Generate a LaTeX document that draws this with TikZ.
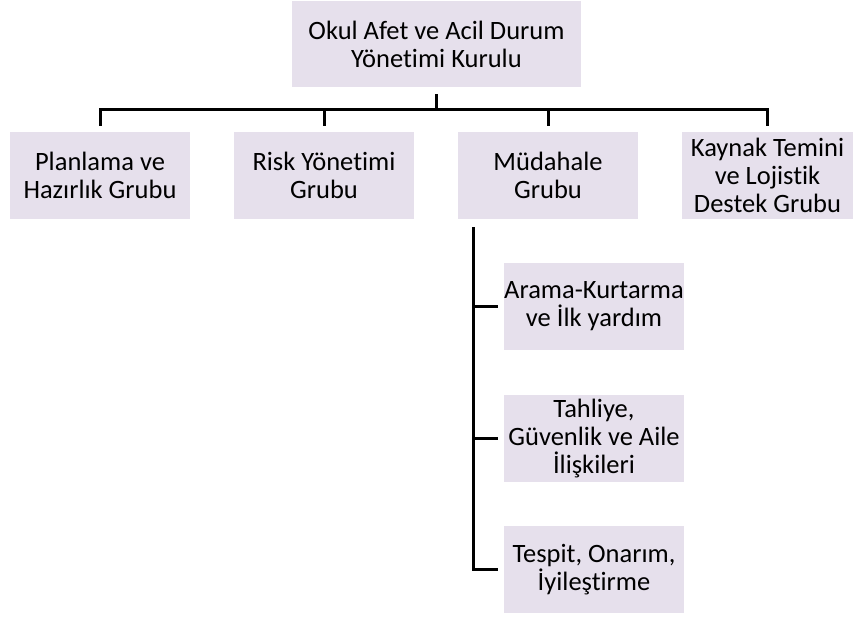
\documentclass[tikz,border=0pt]{standalone}
\usepackage{fontspec}
\setmainfont[Ligatures={NoCommon}]{Carlito}
\definecolor{boxfill}{HTML}{E6E0EC}
\begin{document}
\begin{tikzpicture}[x=1pt,y=-1pt,
  box/.style={fill=boxfill, draw=none, align=center, inner sep=0pt,
    minimum height=87pt, font=\fontsize{26.5}{28}\selectfont},
  conn/.style={line width=3pt, draw=black}]
\useasboundingbox (0,0) rectangle (853,616);
\node[box, minimum width=289pt, minimum height=86pt] (top) at (436.5,44) {Okul Afet ve Acil Durum\\Yönetimi Kurulu};
\node[box, minimum width=180pt] (b1) at (100,175.5) {Planlama ve\\Hazırlık Grubu};
\node[box, minimum width=180pt] (b2) at (324,175.5) {Risk Yönetimi\\Grubu};
\node[box, minimum width=180pt] (b3) at (548,175.5) {Müdahale\\Grubu};
\node[box, minimum width=171pt] (b4) at (767.5,175.5) {Kaynak Temini\\ve Lojistik\\Destek Grubu};
\node[box, minimum width=180pt] (s1) at (594,306.5) {Arama-Kurtarma\\ve İlk yardım};
\node[box, minimum width=180pt] (s2) at (594,438.5) {Tahliye,\\Güvenlik ve Aile\\İlişkileri};
\node[box, minimum width=180pt] (s3) at (594,569.5) {Tespit, Onarım,\\İyileştirme};
\coordinate (bus) at (436.5,109);
\coordinate (sv) at ([xshift=16pt,yshift=-8pt]b3.south west);
\draw[conn, shorten <=7pt] (top.south) -- (bus);
\foreach \b in {b1,b2,b3,b4}{
  \draw[conn, shorten >=6pt] (bus) -| (\b.north);
}
\draw[conn, shorten >=6pt] (sv) |- (s3.west);
\draw[conn, shorten >=6pt] (sv |- s1.west) -- (s1.west);
\draw[conn, shorten >=6pt] (sv |- s2.west) -- (s2.west);
\end{tikzpicture}
\end{document}
